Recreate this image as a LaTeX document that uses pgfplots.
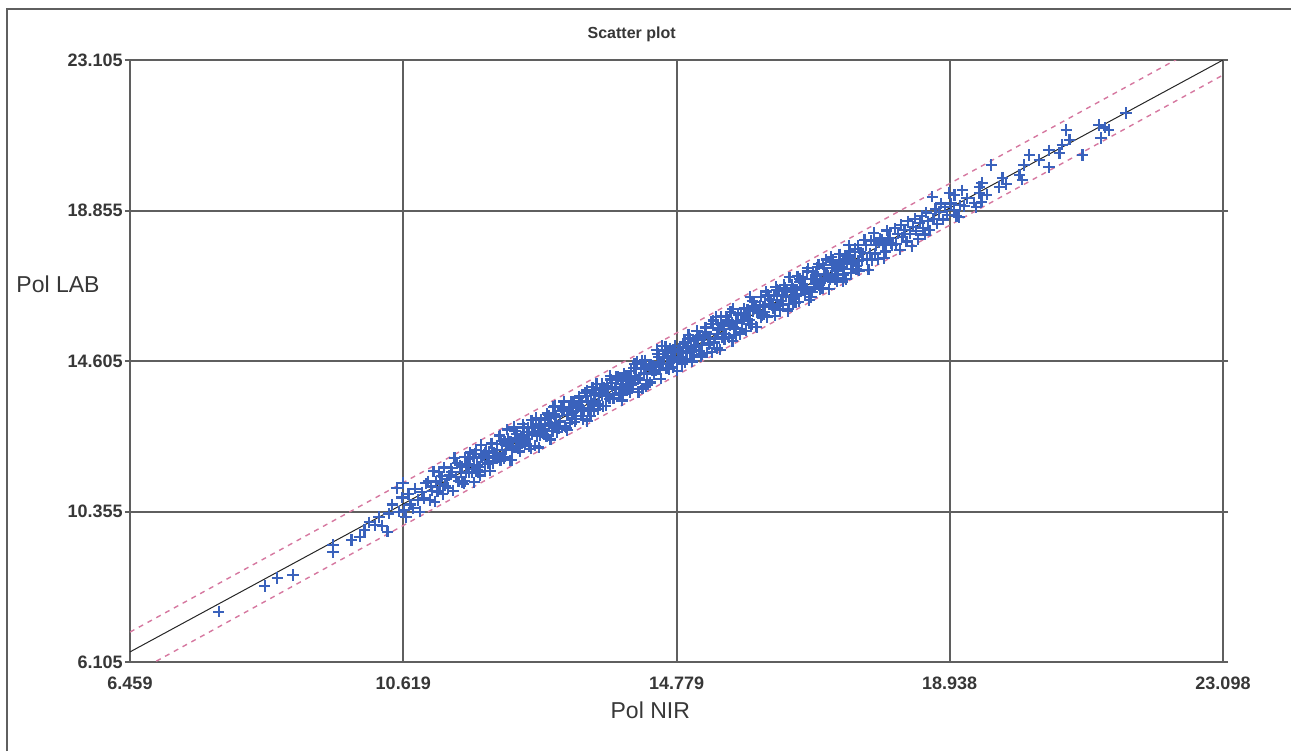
\documentclass[border=0pt]{standalone}
\usepackage{fontspec}
\setmainfont{Liberation Sans}
\usepackage{pgfplots}
\pgfplotsset{compat=1.18}
\definecolor{ptblue}{RGB}{58,98,188}
\definecolor{limpink}{RGB}{214,120,160}
\definecolor{framegray}{RGB}{95,95,95}
\definecolor{txtgray}{RGB}{55,55,55}

\begin{document}
\begin{tikzpicture}
\useasboundingbox (-65pt,-44.5pt) rectangle (580.5pt,331pt);
\draw[framegray, line width=1pt] (-61.5pt,-44.5pt) -- (-61.5pt,326.5pt) -- (580.5pt,326.5pt);
\begin{axis}[
    pts/.style={only marks, mark=+, mark size=2.8pt, color=ptblue, line width=1.1pt},
    scale only axis,
    width=546.5pt, height=301pt,
    xmin=6.459, xmax=23.098,
    ymin=6.105, ymax=23.105,
    xtick={6.459,10.619,14.779,18.938,23.098},
    xticklabels={6.459,10.619,14.779,18.938,23.098},
    ytick={6.105,10.355,14.605,18.855,23.105},
    yticklabels={6.105,10.355,14.605,18.855,23.105},
    grid=major,
    major grid style={framegray, line width=1pt},
    axis line style={framegray, line width=1pt},
    tick align=outside,
    major tick length=2.5pt,
    xtick style={draw=none},
    ytick style={framegray, line width=1pt},
    ticklabel style={font=\fontsize{9}{10}\selectfont\bfseries, text=txtgray},
    yticklabel style={inner sep=1pt},
    xticklabel style={yshift=-1.5pt},
    title={Scatter plot},
    title style={at={(axis description cs:0.459,1)}, anchor=center, yshift=7pt,
        font=\fontsize{8}{9}\selectfont\bfseries, text=txtgray},
    xlabel={Pol NIR},
    xlabel style={at={(axis description cs:0.476,0)}, anchor=center, yshift=-24pt,
        font=\fontsize{11.5}{13}\selectfont, text=txtgray},
    ylabel={Pol LAB},
    ylabel style={at={(axis description cs:-0.0659,0.628)}, rotate=-90, anchor=center,
        font=\fontsize{11.5}{13}\selectfont, text=txtgray},
    clip=true,
]
% low end, sparse
\addplot[pts] coordinates {
(7.81,7.52) (8.51,8.25) (8.70,8.48) (8.94,8.56) (9.55,9.41) (9.55,9.21) (9.83,9.55) (9.96,9.64)
(10.03,9.83) (10.10,10.05) (10.19,9.97) (10.25,10.20) (10.30,9.95) (10.38,9.78) (10.40,10.30)
(10.45,10.55) (10.52,11.02) (10.55,10.35) (10.60,10.75) (10.62,11.16) (10.63,10.40) (10.66,10.20)
(10.70,10.85) (10.73,10.55) (10.77,10.45) (10.80,11.00) (10.84,10.68) (10.87,10.35) (10.90,10.90)
(10.93,10.72) (10.96,11.15)
};
% dense band
\addplot[pts] coordinates {
(11.00,11.21) (11.02,10.68) (11.04,11.06) (11.06,10.94) (11.08,11.49) (11.10,10.63)
(11.12,11.20) (11.14,10.92) (11.16,11.46) (11.18,11.13) (11.20,11.35) (11.22,10.84)
(11.24,11.60) (11.26,11.08) (11.28,11.27) (11.30,11.02) (11.32,11.37) (11.34,11.58)
(11.36,11.48) (11.38,10.94) (11.40,11.87) (11.42,11.33) (11.44,11.72) (11.46,11.21)
(11.48,11.66) (11.50,11.48) (11.52,11.19) (11.54,11.14) (11.56,11.89) (11.58,11.68)
(11.60,11.63) (11.62,11.47) (11.64,12.02) (11.66,11.45) (11.68,11.90) (11.70,11.18)
(11.72,11.99) (11.74,11.67) (11.76,11.46) (11.78,11.62) (11.80,12.24) (11.82,11.88)
(11.84,11.93) (11.86,11.50) (11.88,12.07) (11.90,11.87) (11.92,12.05) (11.94,11.51)
(11.96,12.27) (11.98,11.72) (12.00,12.01) (12.02,11.91) (12.04,12.10) (12.06,11.87)
(12.08,12.48) (12.10,11.79) (12.12,12.27) (12.14,11.90) (12.16,12.33) (12.18,12.10)
(12.20,12.67) (12.22,12.34) (12.24,11.80) (12.26,12.32) (12.28,12.12) (12.30,12.74)
(12.32,12.62) (12.34,12.42) (12.36,12.14) (12.38,12.19) (12.40,12.29) (12.42,12.48)
(12.44,12.82) (12.46,12.49) (12.48,12.33) (12.50,12.52) (12.52,12.73) (12.54,12.20)
(12.56,12.13) (12.58,12.55) (12.60,12.73) (12.62,12.61) (12.64,13.00) (12.66,12.48)
(12.68,12.16) (12.70,12.49) (12.72,12.94) (12.74,12.66) (12.76,12.52) (12.78,12.95)
(12.80,12.47) (12.82,13.00) (12.84,12.82) (12.86,12.39) (12.88,12.76) (12.90,13.31)
(12.92,13.11) (12.94,13.03) (12.96,12.60) (12.98,12.73) (13.00,12.91) (13.02,13.30)
(13.04,13.19) (13.06,13.46) (13.08,12.77) (13.10,12.72) (13.12,13.07) (13.14,13.29)
(13.16,12.86) (13.18,13.45) (13.20,13.13) (13.22,13.46) (13.24,12.96) (13.26,13.31)
(13.28,13.29) (13.30,13.61) (13.32,13.06) (13.34,13.44) (13.36,12.96) (13.38,13.71)
(13.40,13.62) (13.42,12.90) (13.44,13.23) (13.46,13.28) (13.48,13.47) (13.50,13.86)
(13.52,13.21) (13.54,13.69) (13.56,13.96) (13.58,13.24) (13.60,13.62) (13.62,13.83)
(13.64,13.62) (13.66,13.33) (13.68,13.86) (13.70,13.34) (13.72,13.91) (13.74,13.83)
(13.76,13.54) (13.78,14.08) (13.80,13.88) (13.82,13.56) (13.84,13.85) (13.86,14.17)
(13.88,14.16) (13.90,13.65) (13.92,13.83) (13.94,13.87) (13.96,13.66) (13.98,14.25)
(14.00,14.17) (14.02,13.94) (14.04,13.80) (14.06,14.11) (14.08,14.32) (14.10,13.82)
(14.12,13.97) (14.14,14.52) (14.16,14.19) (14.18,14.59) (14.20,13.73) (14.22,14.10)
(14.24,14.37) (14.26,13.83) (14.28,14.25) (14.30,14.63) (14.32,14.42) (14.34,13.94)
(14.36,14.51) (14.38,14.00) (14.40,14.35) (14.42,14.48) (14.44,14.25) (14.46,14.35)
(14.48,14.92) (14.50,14.56) (14.52,14.36) (14.54,14.10) (14.56,15.03) (14.58,14.70)
(14.60,14.90) (14.62,14.40) (14.64,14.72) (14.66,14.41) (14.68,14.96) (14.70,14.61)
(14.72,14.42) (14.74,14.67) (14.76,15.03) (14.78,14.59) (14.80,14.86) (14.82,14.71)
(14.84,14.86) (14.86,14.52) (14.88,15.09) (14.90,15.14) (14.92,14.97) (14.94,14.66)
(14.96,15.34) (14.98,14.83) (15.00,15.03) (15.02,14.59) (15.04,15.17) (15.06,15.03)
(15.08,15.00) (15.10,15.27) (15.12,14.88) (15.14,15.33) (15.16,14.80) (15.18,15.27)
(15.20,15.30) (15.22,15.55) (15.24,14.84) (15.26,15.25) (15.28,15.10) (15.30,15.66)
(15.32,14.85) (15.34,15.75) (15.36,15.24) (15.38,15.85) (15.40,14.96) (15.42,15.54)
(15.44,14.92) (15.46,15.68) (15.48,15.27) (15.50,15.51) (15.52,15.26) (15.54,15.85)
(15.56,15.71) (15.58,15.27) (15.60,16.00) (15.62,15.68) (15.64,16.08) (15.66,15.50)
(15.68,15.35) (15.70,15.68) (15.72,15.90) (15.74,15.36) (15.76,15.91) (15.78,15.73)
(15.80,15.77) (15.82,15.97) (15.84,15.46) (15.86,16.07) (15.88,15.66) (15.90,16.42)
(15.92,15.65) (15.94,16.01) (15.96,16.26) (15.98,16.14) (16.00,15.56) (16.02,15.96)
(16.04,15.95) (16.06,16.42) (16.08,15.89) (16.10,16.13) (16.12,15.99) (16.14,16.57)
(16.16,15.85) (16.18,16.44) (16.20,16.19) (16.22,16.33) (16.24,16.18) (16.26,16.45)
(16.28,15.88) (16.30,16.61) (16.32,16.17) (16.34,16.58) (16.36,16.19) (16.38,16.46)
(16.40,16.19) (16.42,16.76) (16.44,16.42) (16.46,16.58) (16.48,16.07) (16.50,16.97)
(16.52,16.44) (16.54,16.76) (16.56,16.26) (16.58,16.63) (16.60,16.45) (16.62,17.00)
(16.64,16.28) (16.66,16.84) (16.68,16.69) (16.70,16.98) (16.72,16.67) (16.74,16.50)
(16.76,16.64) (16.78,17.22) (16.80,16.33) (16.82,16.91) (16.84,16.56) (16.86,17.11)
(16.88,16.70) (16.90,16.92) (16.92,17.25) (16.94,17.34) (16.96,16.63) (16.98,16.88)
(17.00,16.66) (17.02,17.23) (17.04,17.06) (17.06,17.47) (17.08,16.96) (17.10,16.63)
(17.12,16.90) (17.14,17.22) (17.16,17.46) (17.18,17.33) (17.20,17.15) (17.22,16.84)
(17.24,17.06) (17.26,17.62) (17.28,17.27) (17.30,17.35) (17.32,17.04) (17.34,17.58)
(17.36,16.92) (17.38,17.50) (17.40,17.87) (17.42,17.70) (17.44,17.35) (17.46,17.21)
(17.48,17.46) (17.50,17.68) (17.52,17.19) (17.54,17.87) (17.56,17.16) (17.58,17.68)
(17.60,17.45) (17.62,17.65) (17.64,18.02) (17.66,17.88) (17.68,17.47) (17.70,17.18)
(17.72,17.65) (17.74,18.01) (17.76,17.46) (17.78,18.22) (17.80,17.64) (17.82,17.88)
(17.84,17.48) (17.86,17.95) (17.88,18.07) (17.90,18.03) (17.92,17.89) (17.94,17.51)
(17.96,17.70) (17.98,18.29) (18.00,18.01) (18.02,18.08) (18.04,17.93) (18.06,17.87)
};
% core of the band
\addplot[pts] coordinates {
(11.51,11.61) (11.57,11.45) (11.63,11.83) (11.69,11.65) (11.75,11.53) (11.81,11.87)
(11.87,12.02) (11.93,11.77) (11.99,12.00) (12.05,11.97) (12.11,12.35) (12.17,11.90)
(12.23,12.33) (12.29,12.17) (12.35,12.55) (12.41,12.37) (12.47,12.25) (12.53,12.59)
(12.59,12.74) (12.65,12.49) (12.71,12.72) (12.77,12.69) (12.83,13.07) (12.89,12.62)
(12.95,13.05) (13.01,12.89) (13.07,13.27) (13.13,13.09) (13.19,12.97) (13.25,13.31)
(13.31,13.46) (13.37,13.21) (13.43,13.44) (13.49,13.41) (13.55,13.79) (13.61,13.34)
(13.67,13.77) (13.73,13.61) (13.79,13.99) (13.85,13.81) (13.91,13.69) (13.97,14.03)
(14.03,14.18) (14.09,13.93) (14.15,14.16) (14.21,14.13) (14.27,14.51) (14.33,14.06)
(14.39,14.49) (14.45,14.33) (14.51,14.71) (14.57,14.53) (14.63,14.41) (14.69,14.75)
(14.75,14.90) (14.81,14.65) (14.87,14.88) (14.93,14.85) (14.99,15.23) (15.05,14.78)
(15.11,15.21) (15.17,15.05) (15.23,15.43) (15.29,15.25) (15.35,15.13) (15.41,15.47)
(15.47,15.62) (15.53,15.37) (15.59,15.60) (15.65,15.57) (15.71,15.95) (15.77,15.50)
(15.83,15.93) (15.89,15.77) (15.95,16.15) (16.01,15.97) (16.07,15.85) (16.13,16.19)
(16.19,16.34) (16.25,16.09) (16.31,16.32) (16.37,16.29) (16.43,16.67) (16.49,16.22)
(16.55,16.65) (16.61,16.49) (16.67,16.87) (16.73,16.69) (16.79,16.57) (16.85,16.91)
(16.91,17.06) (16.97,16.81) (17.03,17.04) (17.09,17.01) (17.15,17.39) (17.21,16.94)
(17.27,17.37) (17.33,17.21) (17.39,17.59) (17.45,17.41) (17.51,17.29)
};
% more of the band
\addplot[pts] coordinates {
(11.55,11.21) (11.61,11.89) (11.67,11.56) (11.73,12.09) (11.79,11.37) (11.85,11.97)
(11.91,11.71) (11.97,12.28) (12.03,12.00) (12.09,12.50) (12.15,11.86) (12.21,12.41)
(12.27,11.81) (12.33,12.36) (12.39,12.05) (12.45,12.73) (12.51,12.40) (12.57,12.93)
(12.63,12.21) (12.69,12.81) (12.75,12.55) (12.81,13.12) (12.87,12.84) (12.93,13.34)
(12.99,12.70) (13.05,13.25) (13.11,12.65) (13.17,13.20) (13.23,12.89) (13.29,13.57)
(13.35,13.24) (13.41,13.77) (13.47,13.05) (13.53,13.65) (13.59,13.39) (13.65,13.96)
(13.71,13.68) (13.77,14.18) (13.83,13.54) (13.89,14.09) (13.95,13.49) (14.01,14.04)
(14.07,13.73) (14.13,14.41) (14.19,14.08) (14.25,14.61) (14.31,13.89) (14.37,14.49)
(14.43,14.23) (14.49,14.80) (14.55,14.52) (14.61,15.02) (14.67,14.38) (14.73,14.93)
(14.79,14.33) (14.85,14.88) (14.91,14.57) (14.97,15.25) (15.03,14.92) (15.09,15.45)
(15.15,14.73) (15.21,15.33) (15.27,15.07) (15.33,15.64) (15.39,15.36) (15.45,15.86)
(15.51,15.22) (15.57,15.77) (15.63,15.17) (15.69,15.72) (15.75,15.41) (15.81,16.09)
(15.87,15.76) (15.93,16.29) (15.99,15.57) (16.05,16.17) (16.11,15.91) (16.17,16.48)
(16.23,16.20) (16.29,16.70) (16.35,16.06) (16.41,16.61) (16.47,16.01) (16.53,16.56)
(16.59,16.25) (16.65,16.93) (16.71,16.60) (16.77,17.13) (16.83,16.41) (16.89,17.01)
(16.95,16.75) (17.01,17.32) (17.07,17.04) (17.13,17.54) (17.19,16.90) (17.25,17.45)
(17.31,16.85) (17.37,17.40) (17.43,17.09) (17.49,17.77) (17.55,17.44)
};
% upper end, thinning out
\addplot[pts] coordinates {
(18.10,18.35) (18.12,17.92) (18.15,18.20) (18.18,17.75) (18.20,18.45) (18.22,18.10) (18.25,18.30)
(18.28,17.98) (18.30,18.55) (18.33,18.20) (18.36,17.85) (18.38,18.40) (18.41,18.62) (18.43,18.28)
(18.46,18.05) (18.48,18.50) (18.51,18.70) (18.53,18.35) (18.56,18.18) (18.58,18.80) (18.61,18.55)
(18.63,18.30) (18.67,19.24) (18.69,18.62) (18.72,18.90) (18.75,18.48) (18.78,18.81) (18.80,19.05)
(18.84,18.60) (18.87,18.95) (18.90,18.72) (18.93,19.35) (18.96,19.05) (19.00,18.87) (19.01,19.29)
(19.04,18.70) (19.08,18.67) (19.10,19.00) (19.13,19.43) (19.16,18.98) (19.20,19.20)
(19.31,19.07) (19.34,18.95) (19.39,19.52) (19.39,19.35) (19.42,19.10) (19.43,19.63) (19.50,19.30)
(19.57,20.14) (19.69,19.52) (19.74,19.77) (19.80,19.60) (20.00,19.86) (20.04,19.72) (20.07,20.14)
(20.15,20.42) (20.30,20.28) (20.45,20.56) (20.45,20.08) (20.61,20.48) (20.65,20.71) (20.71,21.13)
(20.76,20.85) (20.96,20.42) (21.21,21.27) (21.24,20.90) (21.36,21.13) (21.30,21.20) (21.62,21.61)
};
% fitted line and limits
\addplot[black!85, line width=0.5pt] coordinates {(6.459,6.39) (23.098,23.105)};
\addplot[limpink, line width=0.7pt, dash pattern=on 2.5pt off 2.5pt] coordinates {(6.459,6.95) (23.098,23.84)};
\addplot[limpink, line width=0.7pt, dash pattern=on 2.5pt off 2.5pt] coordinates {(6.459,5.72) (23.098,22.68)};
\end{axis}
\end{tikzpicture}
\end{document}
